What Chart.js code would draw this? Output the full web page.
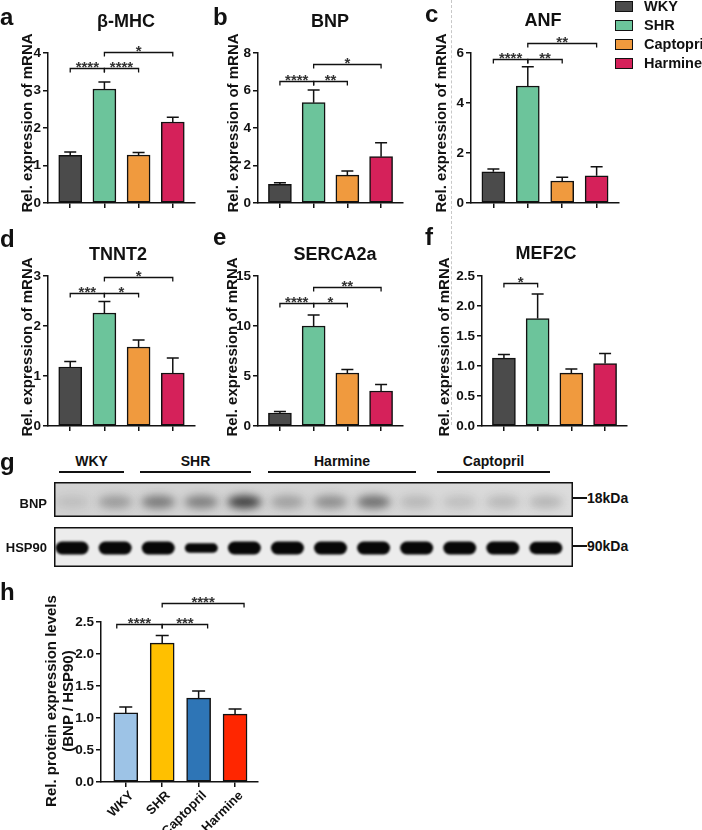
<!DOCTYPE html>
<html><head><meta charset="utf-8">
<script src="https://cdn.jsdelivr.net/npm/chart.js@4.4.1/dist/chart.umd.min.js"></script>
<style>
body{margin:0;background:#fff;}
#fig{position:relative;width:702px;height:830px;overflow:hidden;font-family:'Liberation Sans',Arial,Helvetica,sans-serif;color:#111;background:#fff;}
#fig canvas{position:absolute;}
.t{position:absolute;white-space:nowrap;font-weight:bold;}
.ln{position:absolute;background:#111;}
.rt{position:absolute;white-space:nowrap;font-weight:bold;font-size:15px;line-height:15px;transform:translate(-50%,-50%) rotate(-90deg);}
</style></head><body><div id="fig"></div>
<script>
// ---------------- data ----------------
const categories = ['WKY', 'SHR', 'Captopril', 'Harmine'];
const mrnaColors = ['#4b4b4b', '#6cc49b', '#f09a3e', '#d5215a'];
const proteinColors = ['#9dc3e6', '#ffc000', '#2e75b6', '#ff2600'];

const bmhcMean = [1.27, 3.04, 1.28, 2.16];
const bmhcSem  = [0.09, 0.19, 0.07, 0.13];
const bmhcTicks = [0, 1, 2, 3, 4];
const bmhcSig = [[0, 1, '****', 3.6], [1, 2, '****', 3.6], [1, 3, '*', 4.03]];

const bnpMean = [1.0, 5.35, 1.49, 2.47];
const bnpSem  = [0.08, 0.68, 0.22, 0.75];
const bnpTicks = [0, 2, 4, 6, 8];
const bnpSig = [[0, 1, '****', 6.5], [1, 2, '**', 6.5], [1, 3, '*', 7.4]];

const anfMean = [1.25, 4.68, 0.88, 1.09];
const anfSem  = [0.11, 0.77, 0.15, 0.36];
const anfTicks = [0, 2, 4, 6];
const anfSig = [[0, 1, '****', 5.76], [1, 2, '**', 5.76], [1, 3, '**', 6.4]];

const tnnt2Mean = [1.18, 2.26, 1.58, 1.06];
const tnnt2Sem  = [0.11, 0.23, 0.14, 0.30];
const tnnt2Ticks = [0, 1, 2, 3];
const tnnt2Sig = [[0, 1, '***', 2.66], [1, 2, '*', 2.66], [1, 3, '*', 2.98]];

const sercaMean = [1.3, 10.0, 5.3, 3.5];
const sercaSem  = [0.15, 1.1, 0.35, 0.65];
const sercaTicks = [0, 5, 10, 15];
const sercaSig = [[0, 1, '****', 12.3], [1, 2, '*', 12.3], [1, 3, '**', 13.9]];

const mef2cMean = [1.13, 1.79, 0.88, 1.04];
const mef2cSem  = [0.06, 0.41, 0.07, 0.17];
const mef2cTicks = [0, 0.5, 1.0, 1.5, 2.0, 2.5];
const mef2cSig = [[0, 1, '*', 2.38]];

const proteinMean = [1.08, 2.17, 1.31, 1.06];
const proteinSem  = [0.09, 0.12, 0.11, 0.08];
const proteinTicks = [0, 0.5, 1.0, 1.5, 2.0, 2.5];
const proteinSig = [[0, 1, '****', 2.47], [1, 2, '***', 2.47], [1, 3, '****', 2.8]];

const blotGroups = ['WKY', 'SHR', 'Harmine', 'Captopril'];
const bnpBand   = [0.10, 0.30, 0.48, 0.45, 0.80, 0.28, 0.38, 0.55, 0.16, 0.13, 0.17, 0.19];
const hsp90Band = [1, 1, 1, 0.72, 1, 1, 1, 1, 1, 1, 1, 0.95];

// ---------------- helpers ----------------
const FONT = "'Liberation Sans', Arial, Helvetica, sans-serif";
Chart.defaults.font.family = FONT;
const fig = document.getElementById('fig');

function makeCanvas(x, y, w, h) {
  const c = document.createElement('canvas');
  c.width = w; c.height = h;
  c.style.left = x + 'px'; c.style.top = y + 'px';
  c.style.width = w + 'px'; c.style.height = h + 'px';
  fig.appendChild(c);
  return c;
}
function label(s, x, base, size, align) {
  const d = document.createElement('div');
  d.className = 't'; d.textContent = s;
  d.style.fontSize = size + 'px'; d.style.lineHeight = size + 'px';
  d.style.top = (base - 0.8465 * size) + 'px';
  if (align === 'center') { d.style.left = x + 'px'; d.style.transform = 'translateX(-50%)'; }
  else if (align === 'right') { d.style.right = (702 - x) + 'px'; }
  else d.style.left = x + 'px';
  fig.appendChild(d);
}
function vlabel(s, cx, cy) {
  const d = document.createElement('div');
  d.className = 'rt'; d.textContent = s;
  d.style.left = cx + 'px'; d.style.top = cy + 'px';
  fig.appendChild(d);
}
function hline(x1, x2, y, w) {
  const d = document.createElement('div'); d.className = 'ln';
  d.style.left = x1 + 'px'; d.style.width = (x2 - x1) + 'px';
  d.style.top = (y - w / 2) + 'px'; d.style.height = w + 'px';
  fig.appendChild(d);
}

const sigPlugin = {
  id: 'sig',
  afterDatasetsDraw(chart, args, o) {
    const ctx = chart.ctx, ys = chart.scales.y, meta = chart.getDatasetMeta(0);
    const ds = chart.data.datasets[0].data;
    ctx.save();
    ctx.strokeStyle = '#111'; ctx.lineWidth = 1.5; ctx.lineCap = 'butt';
    meta.data.forEach((bar, i) => {
      const t = ys.getPixelForValue(ds[i].y + o.sem[i]);
      ctx.beginPath();
      ctx.moveTo(bar.x, bar.y); ctx.lineTo(bar.x, t);
      ctx.moveTo(bar.x - o.cap / 2, t); ctx.lineTo(bar.x + o.cap / 2, t);
      ctx.stroke();
    });
    ctx.lineWidth = 1.3;
    ctx.font = 'bold 15px ' + FONT; ctx.textAlign = 'center'; ctx.textBaseline = 'alphabetic';
    ctx.fillStyle = '#333';
    o.comps.forEach(([a, b, lab, lv]) => {
      let x1 = meta.data[a].x, x2 = meta.data[b].x;
      if (a !== 1) x1 -= o.ext;
      if (b !== 1) x2 += o.ext;
      const y = Math.round(ys.getPixelForValue(lv)) + 0.5;
      ctx.beginPath();
      ctx.moveTo(x1, y + 4); ctx.lineTo(x1, y); ctx.lineTo(x2, y); ctx.lineTo(x2, y + 4);
      ctx.stroke();
      ctx.fillText(lab, (x1 + x2) / 2, y + 3.5);
    });
    ctx.restore();
  }
};

function barPanel(c) {
  const cv = makeCanvas(c.x, c.y, c.w, c.h);
  const last = c.ticks[c.ticks.length - 1];
  return new Chart(cv, {
    type: 'bar',
    data: { datasets: [{
      data: c.mean.map((v, i) => ({ x: i, y: v })),
      backgroundColor: c.colors, borderColor: '#111', borderWidth: 1.5,
      borderSkipped: false, barThickness: c.barW
    }] },
    options: {
      responsive: false, animation: false,
      layout: { padding: { left: 0, top: c.padT, right: c.padR, bottom: 0 } },
      plugins: { legend: { display: false }, tooltip: { enabled: false },
        sig: { sem: c.sem, comps: c.comps, cap: c.cap, ext: c.ext } },
      scales: {
        x: {
          type: 'linear', min: c.xmin, max: c.xmax, offset: false,
          afterBuildTicks: s => { s.ticks = categories.map((_, i) => ({ value: i })); },
          afterFit: s => { s.height = c.xH; },
          grid: { display: true, drawOnChartArea: false, drawTicks: true, tickLength: 5, color: '#111', lineWidth: 1.5, offset: false },
          border: { display: true, color: '#111', width: 1.5 },
          ticks: { display: !!c.xLabels, autoSkip: false, minRotation: 45, maxRotation: 45, padding: 1, labelOffset: 6,
            font: { size: 13, weight: 'bold' }, color: '#111', callback: v => categories[v] }
        },
        y: {
          type: 'linear', min: 0, max: last,
          afterBuildTicks: s => { s.ticks = c.ticks.map(v => ({ value: v })); },
          afterFit: s => { s.width = c.yW; },
          grid: { display: true, drawOnChartArea: false, drawTicks: true, tickLength: 5, color: '#111', lineWidth: 1.5 },
          border: { display: true, color: '#111', width: 1.5 },
          ticks: { padding: 2, font: { size: 13.5, weight: 'bold' }, color: '#111',
            callback: v => c.fmt ? Number(v).toFixed(1) : String(v) }
        }
      }
    },
    plugins: [sigPlugin]
  });
}

const mrnaTitle = 'Rel. expression of mRNA';
const common = { colors: mrnaColors, barW: 23, cap: 12, ext: 0, xmin: -0.65, xmax: 3.65 };

// row 1
barPanel(Object.assign({}, common, { x: 0, y: 25, w: 200, h: 195, padT: 28, padR: 5, xH: 17, yW: 48,
  mean: bmhcMean, sem: bmhcSem, ticks: bmhcTicks, comps: bmhcSig }));
barPanel(Object.assign({}, common, { x: 205, y: 25, w: 200, h: 195, padT: 28, padR: 2, xH: 17, yW: 53,
  mean: bnpMean, sem: bnpSem, ticks: bnpTicks, comps: bnpSig }));
barPanel(Object.assign({}, common, { x: 420, y: 25, w: 205, h: 195, padT: 28, padR: 6, xH: 17, yW: 51,
  mean: anfMean, sem: anfSem, ticks: anfTicks, comps: anfSig }));
// row 2
barPanel(Object.assign({}, common, { x: 0, y: 250, w: 200, h: 195, padT: 26, padR: 5, xH: 19, yW: 48,
  mean: tnnt2Mean, sem: tnnt2Sem, ticks: tnnt2Ticks, comps: tnnt2Sig }));
barPanel(Object.assign({}, common, { x: 205, y: 250, w: 200, h: 195, padT: 26, padR: 2, xH: 19, yW: 53,
  mean: sercaMean, sem: sercaSem, ticks: sercaTicks, comps: sercaSig }));
barPanel(Object.assign({}, common, { x: 420, y: 250, w: 215, h: 195, padT: 26, padR: 8, xH: 19, yW: 62, fmt: true,
  mean: mef2cMean, sem: mef2cSem, ticks: mef2cTicks, comps: mef2cSig }));
// panel h
barPanel({ x: 0, y: 590, w: 280, h: 240, padT: 32, padR: 22, xH: 48, yW: 101, fmt: true, xLabels: true,
  colors: proteinColors, barW: 24, cap: 13, ext: 9, xmin: -0.68, xmax: 3.63,
  mean: proteinMean, sem: proteinSem, ticks: proteinTicks, comps: proteinSig });

// y axis titles
vlabel(mrnaTitle, 25.5, 123); vlabel(mrnaTitle, 232, 123); vlabel(mrnaTitle, 440, 123);
vlabel(mrnaTitle, 25.5, 347); vlabel(mrnaTitle, 231, 347); vlabel(mrnaTitle, 443, 347);
vlabel('Rel. protein expression levels', 50, 701); vlabel('(BNP / HSP90)', 67, 701);

// ---------------- western blot (panel g) ----------------
const blotPlugin = {
  id: 'blot',
  beforeDatasetsDraw(chart) {
    const ctx = chart.ctx, ys = chart.scales.y, ca = chart.chartArea;
    const bTop = ys.getPixelForValue(0), bBot = ys.getPixelForValue(35);
    const hTop = ys.getPixelForValue(45), hBot = ys.getPixelForValue(85);
    ctx.save();
    const g = ctx.createLinearGradient(ca.left, 0, ca.right, 0);
    g.addColorStop(0, '#d2d2d2'); g.addColorStop(0.5, '#d4d4d4'); g.addColorStop(1, '#dcdcdc');
    ctx.fillStyle = g; ctx.fillRect(ca.left, bTop, ca.right - ca.left, bBot - bTop);
    ctx.save();
    ctx.beginPath(); ctx.rect(ca.left, bTop, ca.right - ca.left, bBot - bTop); ctx.clip();
    ctx.filter = 'blur(4px)';
    chart.getDatasetMeta(0).data.forEach((p, i) => {
      ctx.fillStyle = 'rgba(25,25,25,' + bnpBand[i] + ')';
      ctx.beginPath(); ctx.ellipse(p.x, p.y, 17, 6.5, 0, 0, Math.PI * 2); ctx.fill();
    });
    ctx.restore();
    ctx.fillStyle = '#ececec'; ctx.fillRect(ca.left, hTop, ca.right - ca.left, hBot - hTop);
    ctx.save();
    ctx.beginPath(); ctx.rect(ca.left, hTop, ca.right - ca.left, hBot - hTop); ctx.clip();
    ctx.filter = 'blur(1.2px)';
    ctx.fillStyle = '#070707';
    chart.getDatasetMeta(1).data.forEach((p, i) => {
      const h = 13 * hsp90Band[i];
      ctx.beginPath(); ctx.roundRect(p.x - 16.5, p.y - h / 2, 33, h, h / 2); ctx.fill();
    });
    ctx.restore();
    ctx.filter = 'none';
    ctx.strokeStyle = '#111'; ctx.lineWidth = 1.5;
    ctx.strokeRect(ca.left + 0.75, bTop + 0.75, ca.right - ca.left - 1.5, bBot - bTop - 1.5);
    ctx.strokeRect(ca.left + 0.75, hTop + 0.75, ca.right - ca.left - 1.5, hBot - hTop - 1.5);
    ctx.restore();
  }
};
new Chart(makeCanvas(54, 482, 519, 85), {
  type: 'scatter',
  data: { datasets: [
    { label: 'BNP', data: bnpBand.map((v, i) => ({ x: i + 1, y: 20 })), pointRadius: 0 },
    { label: 'HSP90', data: hsp90Band.map((v, i) => ({ x: i + 1, y: 66 })), pointRadius: 0 }
  ] },
  options: {
    responsive: false, animation: false, layout: { padding: 0 },
    plugins: { legend: { display: false }, tooltip: { enabled: false } },
    scales: {
      x: { type: 'linear', min: 0.58, max: 12.63, display: false },
      y: { type: 'linear', min: 0, max: 85, reverse: true, display: false }
    }
  },
  plugins: [blotPlugin]
});

// ---------------- text ----------------
label('a', 0, 25, 24); label('b', 213, 25, 24); label('c', 425, 22, 24);
label('d', 0, 247, 24); label('e', 213, 245, 24); label('f', 425, 245, 24);
label('g', 0, 470, 24); label('h', 0, 600, 24);

label('β-MHC', 126, 27, 18, 'center'); label('BNP', 330, 27, 18, 'center'); label('ANF', 543, 26, 18, 'center');
label('TNNT2', 118, 260, 18, 'center'); label('SERCA2a', 335, 260, 18, 'center'); label('MEF2C', 546, 259, 18, 'center');

// legend
const legY = [6, 25, 44, 63];
categories.forEach((c, i) => {
  const sq = document.createElement('div');
  sq.style.cssText = 'position:absolute;left:615px;width:16px;height:9px;border:1px solid #111;';
  sq.style.top = (legY[i] - 5.5) + 'px'; sq.style.background = mrnaColors[i];
  fig.appendChild(sq);
  label(c, 644, legY[i] + 5, 14.5);
});

// blot labels
const grpX = [[59, 124], [140, 251], [268, 416], [437, 550]];
blotGroups.forEach((gname, i) => {
  label(gname, (grpX[i][0] + grpX[i][1]) / 2, 466, 14, 'center');
  hline(grpX[i][0], grpX[i][1], 472, 1.5);
});
label('BNP', 47, 508, 13, 'right');
label('HSP90', 47, 552, 13, 'right');
hline(573, 587, 498, 1.5); label('18kDa', 587, 503, 14);
hline(573, 587, 546, 1.5); label('90kDa', 587, 551, 14);

const dl = document.createElement('div');
dl.style.cssText = 'position:absolute;left:451px;top:0;height:425px;border-left:1px dashed #c8c8c8;';
fig.appendChild(dl);
</script></body></html>
